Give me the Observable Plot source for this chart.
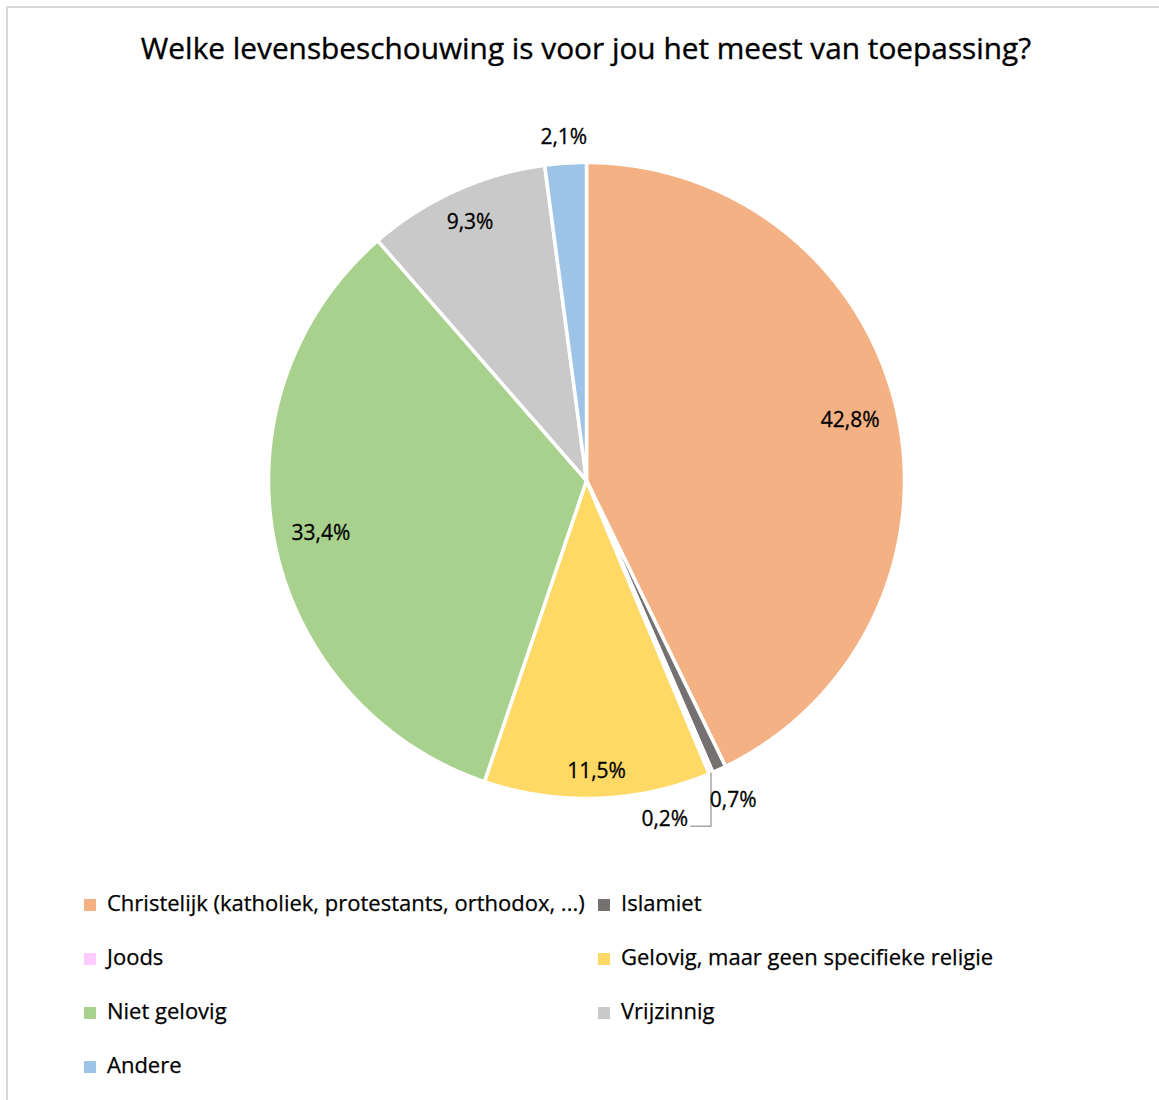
<!DOCTYPE html>
<html><head><meta charset="utf-8">
<script src="https://cdn.jsdelivr.net/npm/d3@7"></script>
<script src="https://cdn.jsdelivr.net/npm/@observablehq/plot@0.6"></script>
<style>
body{margin:0;background:#fff;font-family:"Open Sans",sans-serif;}
#wrap{position:relative;width:1159px;height:1100px;overflow:hidden;background:#fff}
#border{position:absolute;left:6px;top:6px;width:1200px;height:1200px;border:2px solid #d9d9d9;box-sizing:border-box}
#title{position:absolute;left:0;width:1172px;top:29px;text-align:center;font-size:29.8px;color:#000;line-height:38px;-webkit-text-stroke:0.35px #000}
#chart{position:absolute;left:0;top:0}
.item{position:absolute;font-size:22px;line-height:26px;color:#000;white-space:nowrap;-webkit-text-stroke:0.25px #000}
.sw{position:absolute;width:12px;height:12px}
</style></head><body>
<div id="wrap">
  <div id="border"></div>
  <div id="chart"></div>
  <div id="title">Welke levensbeschouwing is voor jou het meest van toepassing?</div>
  <div id="legend"></div>
</div>
<script>
const categories = ["Christelijk (katholiek, protestants, orthodox, ...)", "Islamiet", "Joods", "Gelovig, maar geen specifieke religie", "Niet gelovig", "Vrijzinnig", "Andere"];
const values = [42.8, 0.7, 0.2, 11.5, 33.4, 9.3, 2.1];
const colors = ["#F4B183", "#767171", "#FFCCFF", "#FFD966", "#A9D18E", "#C9C9C9", "#9DC3E6"];

const data = categories.map((c, i) => ({cat: c, value: values[i]}));
const arcs = d3.pie().sort(null).value(d => d.value)(data);

// geometry
const R = 318; // px per unit
const slicePts = [];
arcs.forEach(a => {
  const n = Math.max(2, Math.ceil((a.endAngle - a.startAngle) / 0.005));
  slicePts.push({cat: a.data.cat, x: 0, y: 0});
  for (let k = 0; k <= n; k++) {
    const t = a.startAngle + (a.endAngle - a.startAngle) * k / n;
    slicePts.push({cat: a.data.cat, x: Math.sin(t), y: Math.cos(t)});
  }
  slicePts.push({cat: a.data.cat, x: 0, y: 0});
});

const fmt = v => d3.format(".1f")(v).replace(".", ",") + "%";
const labels = [];
const leaders = [];
let prev = null;
arcs.forEach((a, i) => {
  const mid = (a.startAngle + a.endAngle) / 2;
  const txt = fmt(a.data.value);
  const s0 = Math.sin(mid), c0 = Math.cos(mid);
  if (a.data.value >= 3) {
    const hw = txt.length * 6, hh = 10, inset = 16;
    const d = R - inset - Math.abs(s0) * hw - Math.abs(c0) * hh;
    labels.push({x: d * s0 / R, y: d * c0 / R, text: txt});
  } else {
    const hw = txt.length * 5.5, hh = 7, gap = 18;
    const pos = t => {
      const s = Math.sin(t), c = Math.cos(t);
      const d = R + gap + Math.abs(s) * hw + Math.abs(c) * hh;
      return [d * s, d * c];
    };
    let ang = mid;
    if (prev) {
      while (Math.hypot(pos(ang)[0] - prev[0], pos(ang)[1] - prev[1]) < 71) ang += 0.005;
    }
    const p = pos(ang);
    prev = p;
    labels.push({x: p[0] / R, y: p[1] / R, text: txt});
    if (ang - mid > 0.05) {
      const ly = p[1] / R - 7 / R;
      leaders.push({x: s0, y: c0}, {x: s0, y: ly}, {x: p[0] / R + 26 / R, y: ly});
    }
  }
});

const chart = Plot.plot({
  width: 1159,
  height: 900,
  marginLeft: 268,
  marginRight: 1159 - 904,
  marginTop: 162,
  marginBottom: 900 - 798,
  x: {domain: [-1, 1], axis: null},
  y: {domain: [-1, 1], axis: null},
  color: {domain: categories, range: colors},
  style: {fontFamily: "'Open Sans', sans-serif", background: "transparent", overflow: "visible"},
  marks: [
    Plot.line(slicePts, {x: "x", y: "y", z: "cat", fill: "cat", stroke: "white", strokeWidth: 3.5, strokeLinejoin: "round", curve: "linear"}),
    Plot.line(leaders, {x: "x", y: "y", stroke: "#a6a6a6", strokeWidth: 1.5}),
    Plot.text(labels, {x: "x", y: "y", text: "text", fontSize: 21, fill: "#000", stroke: "#000", strokeWidth: 0.3})
  ]
});
document.getElementById("chart").appendChild(chart);

// legend
const legend = document.getElementById("legend");
categories.forEach((c, i) => {
  const col = i % 2, row = Math.floor(i / 2);
  const cx = col === 0 ? 84 : 598;
  const cy = 903 + row * 54;
  const sw = document.createElement("div");
  sw.className = "sw";
  sw.style.left = cx + "px";
  sw.style.top = (cy - 4) + "px";
  sw.style.background = colors[i];
  legend.appendChild(sw);
  const t = document.createElement("div");
  t.className = "item";
  t.style.left = (cx + 23) + "px";
  t.style.top = (cy - 14) + "px";
  t.textContent = c;
  legend.appendChild(t);
});
</script>
</body></html>
